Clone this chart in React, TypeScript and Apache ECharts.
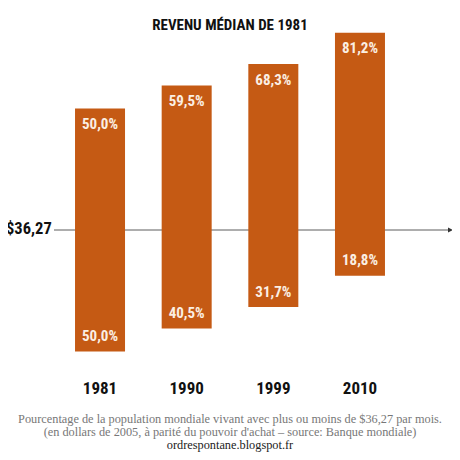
import { useEffect, useRef } from "react";
import * as echarts from "echarts";

const years = ["1981", "1990", "1999", "2010"];
const above = [50.0, 59.5, 68.3, 81.2];
const below = [50.0, 40.5, 31.7, 18.8];
const threshold = "$36,27";
const notes = [
  "Pourcentage de la population mondiale vivant avec plus ou moins de $36,27 par mois.",
  "(en dollars de 2005, à parité du pouvoir d'achat – source: Banque mondiale)",
];
const site = "ordrespontane.blogspot.fr";

const BAR = "#c55a14";
const NARROW = "'Liberation Sans Narrow', 'Roboto Condensed', sans-serif";
const SERIF = "'Liberation Serif', 'DejaVu Serif', serif";

const fmt = (v: number) => Math.abs(v).toFixed(1).replace(".", ",") + "%";

export default function App() {
  const ref = useRef<HTMLDivElement>(null);

  useEffect(() => {
    if (!ref.current) return;
    const chart = echarts.init(ref.current, undefined, { renderer: "svg" });
    const label = {
      show: true,
      color: "#fbefe3",
      fontFamily: NARROW,
      fontWeight: "bold" as const,
      fontSize: 15,
      distance: 8,
      formatter: (p: { value: number }) => fmt(p.value),
    };
    chart.setOption({
      animation: false,
      title: {
        text: "REVENU MÉDIAN DE 1981",
        left: "center",
        top: 12,
        textStyle: { fontFamily: NARROW, fontWeight: "bold", fontSize: 15, color: "#111" },
      },
      grid: { left: 56.7, right: 56.7, top: 11.3, bottom: 84.2 },
      xAxis: {
        type: "category",
        data: years,
        axisLine: { show: false, onZero: false },
        axisTick: { show: false },
        axisLabel: { margin: 4, fontFamily: NARROW, fontWeight: "bold", fontSize: 17, color: "#111" },
      },
      yAxis: { type: "value", min: -60, max: 90, show: false, splitLine: { show: false } },
      series: [
        {
          type: "bar",
          stack: "s",
          barWidth: 50,
          data: above,
          itemStyle: { color: BAR },
          label: { ...label, position: "insideTop" },
        },
        {
          type: "bar",
          stack: "s",
          barWidth: 50,
          data: below.map((v) => -v),
          itemStyle: { color: BAR },
          label: { ...label, position: "insideBottom" },
        },
      ],
    });

    const y0 = chart.convertToPixel({ yAxisIndex: 0 }, 0) as number;
    chart.setOption({
      graphic: [
        {
          type: "text",
          left: 6,
          top: y0 - 10,
          style: { text: threshold, fontFamily: NARROW, fontWeight: "bold", fontSize: 16.5, fill: "#111" },
        },
        {
          type: "line",
          shape: { x1: 54, y1: y0, x2: 450, y2: y0 },
          style: { stroke: "#333", lineWidth: 0.8 },
        },
        {
          type: "polygon",
          shape: { points: [[448, y0 - 2.5], [453, y0], [448, y0 + 2.5]] },
          style: { fill: "#333" },
        },
        {
          type: "text",
          left: "center",
          top: 412.5,
          style: { text: notes[0], fontFamily: SERIF, fontSize: 12.3, fill: "#777", align: "center" },
        },
        {
          type: "text",
          left: "center",
          top: 425.5,
          style: { text: notes[1], fontFamily: SERIF, fontSize: 12.3, fill: "#777", align: "center" },
        },
        {
          type: "text",
          left: "center",
          top: 438.5,
          style: { text: site, fontFamily: SERIF, fontSize: 12.3, fill: "#222", align: "center" },
        },
      ],
    });
    return () => chart.dispose();
  }, []);

  return <div ref={ref} style={{ width: 460, height: 460, margin: -8, background: "#fff" }} />;
}
